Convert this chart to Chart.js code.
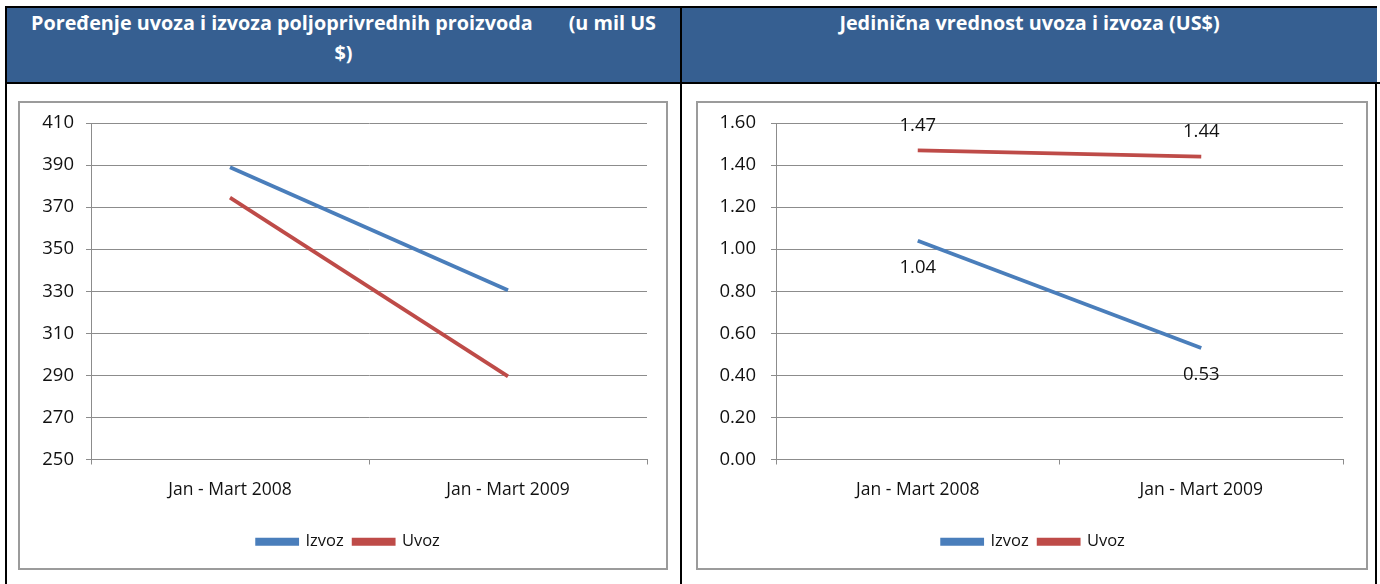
<!DOCTYPE html>
<html>
<head>
<meta charset="utf-8">
<script src="https://cdn.jsdelivr.net/npm/chart.js@4.4.1/dist/chart.umd.min.js"></script>
<style>
  body { margin: 0; background: #fff; width: 1380px; height: 584px; overflow: hidden; position: relative; font-family: "Open Sans", sans-serif; }
  .frame { position: absolute; left: 5px; top: 6px; width: 1372px; height: 600px; border: 2px solid #000; border-bottom: none; box-sizing: border-box; }
  .head { position: absolute; top: 8px; height: 74px; background: #365F91; color: #fff; font-weight: 700; font-size: 19.8px; line-height: 30px; text-align: center; white-space: pre; box-sizing: border-box; }
  .hline { position: absolute; left: 5px; top: 82px; width: 1375px; height: 2px; background: #000; }
  .vline { position: absolute; left: 680px; top: 6px; width: 2px; height: 600px; background: #000; }
  .box { position: absolute; top: 101px; height: 469px; border: 2px solid #9b9b9b; box-sizing: border-box; background: #fff; }
  .box canvas { display: block; }
</style>
</head>
<body>
<div class="frame"></div>
<div class="head" style="left:7px; width:673px;">Poređenje uvoza i izvoza poljoprivrednih proizvoda       (u mil US
$)</div>
<div class="head" style="left:682px; width:695px;">Jedinična vrednost uvoza i izvoza (US$)</div>
<div class="hline"></div>
<div class="vline"></div>
<div class="box" style="left:18px; width:650px;"><canvas id="c1" width="646" height="465"></canvas></div>
<div class="box" style="left:696px; width:672px;"><canvas id="c2" width="668" height="465"></canvas></div>
<script>
const categories = ['Jan - Mart 2008', 'Jan - Mart 2009'];

// Poređenje uvoza i izvoza (u mil US $)
const izvozValue = [389, 330.5];
const uvozValue = [374.5, 289.5];

// Jedinična vrednost (US$)
const izvozUnit = [1.04, 0.53];
const uvozUnit = [1.47, 1.44];

const BLUE = '#4A7EBB';
const RED = '#BE4B48';
const GRID = '#8c8c8c';
const FONT = '"Open Sans", sans-serif';

// draws value labels above/below points
const valueLabels = {
    id: 'valueLabels',
    afterDatasetsDraw(chart, args, opts) {
        if (!opts.show) return;
        const ctx = chart.ctx;
        ctx.save();
        ctx.font = '18.5px ' + FONT;
        ctx.fillStyle = '#111';
        ctx.textAlign = 'center';
        ctx.textBaseline = 'middle';
        chart.data.datasets.forEach((ds, i) => {
            const meta = chart.getDatasetMeta(i);
            const off = opts.offsets[i];
            meta.data.forEach((pt, j) => {
                ctx.fillText(ds.data[j].toFixed(2), pt.x, pt.y + off);
            });
        });
        ctx.restore();
    }
};

// nudges the legend sideways so it sits under the plot like in Excel
const legendShift = {
    id: 'legendShift',
    afterLayout(chart, args, opts) {
        chart.legend.left += opts.dx;
        chart.legend.right += opts.dx;
    }
};

const makeChart = (id, a, b, min, max, step, yWidth, padRight, yPad, shift, decimals, labels) => {
    return new Chart(document.getElementById(id), {
        type: 'line',
        data: {
            labels: categories,
            datasets: [
                { label: 'Izvoz', data: a, borderColor: BLUE, backgroundColor: BLUE, borderWidth: 3.8, pointRadius: 0, tension: 0 },
                { label: 'Uvoz', data: b, borderColor: RED, backgroundColor: RED, borderWidth: 3.8, pointRadius: 0, tension: 0 }
            ]
        },
        options: {
            responsive: false,
            animation: false,
            layout: { padding: { top: 20, right: padRight, bottom: 8, left: 10 } },
            plugins: {
                legend: {
                    position: 'bottom',
                    labels: {
                        boxWidth: 40, boxHeight: 4, padding: 10,
                        color: '#111', font: { family: FONT, size: 16.5 }
                    }
                },
                legendShift: { dx: shift },
                tooltip: { enabled: false },
                valueLabels: { show: labels, offsets: [27, -25] }
            },
            scales: {
                x: {
                    offset: true,
                    grid: { offset: true, drawOnChartArea: false, drawTicks: true, tickLength: 5, color: GRID },
                    border: { display: true, color: GRID },
                    ticks: { color: '#111', padding: 15, font: { family: FONT, size: 17.5 } },
                    afterFit: s => { s.height = 64; }
                },
                y: {
                    min: min, max: max,
                    grid: { color: GRID, tickLength: 5 },
                    border: { display: true, color: GRID },
                    ticks: {
                        stepSize: step, padding: yPad, color: '#111',
                        font: { family: FONT, size: 18.5 },
                        callback: v => v.toFixed(decimals)
                    },
                    afterFit: s => {
                        s.width = yWidth;
                        s.paddingTop = 0;
                        s.paddingBottom = 0;
                    }
                }
            }
        },
        plugins: [valueLabels, legendShift]
    });
};

makeChart('c1', izvozValue, uvozValue, 250, 410, 20, 61, 19, 12, 10, 0, false);
makeChart('c2', izvozUnit, uvozUnit, 0, 1.6, 0.2, 68, 23, 15, 8, 2, true);
</script>
</body>
</html>
